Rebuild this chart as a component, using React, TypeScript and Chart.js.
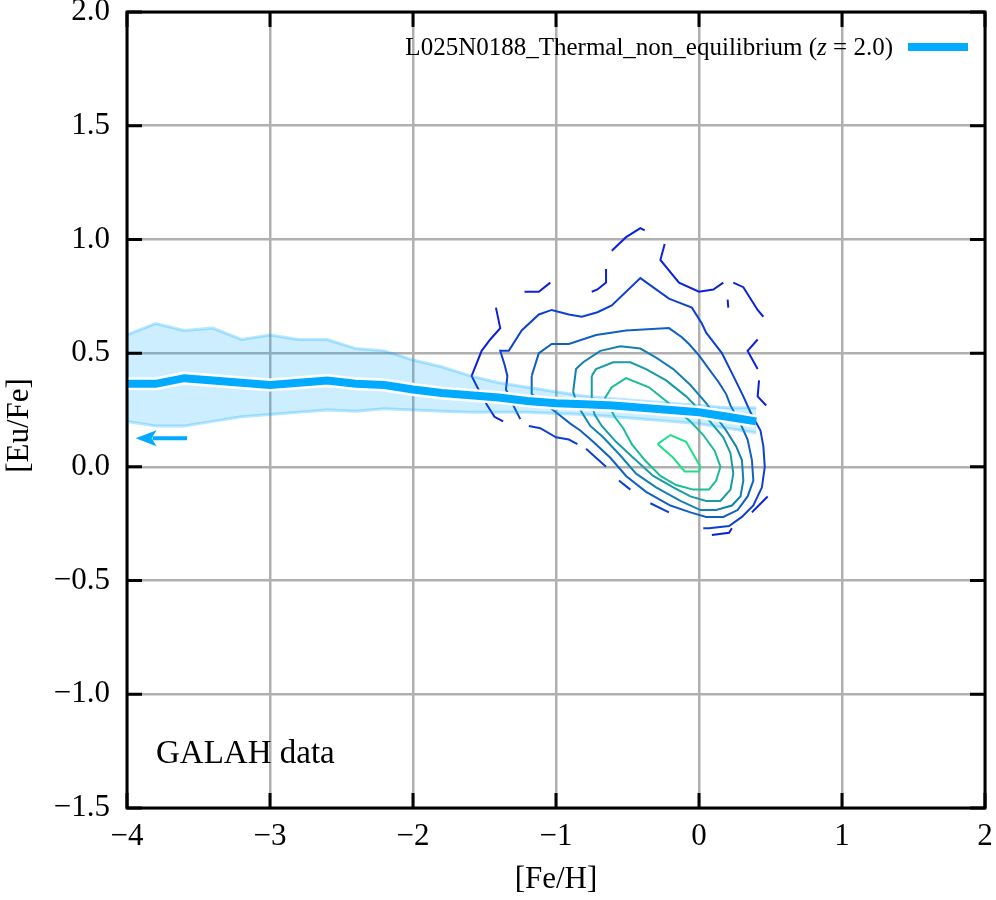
import React, { useEffect, useRef } from "react";
import { Chart, registerables } from "chart.js";

Chart.register(...registerables);

type Pt = [number, number] | null;

const FONT = "'Liberation Serif', 'Times New Roman', Times, serif";

// median [Eu/Fe] track of the simulation, binned in [Fe/H]
const feBins = [
  -4.0, -3.8, -3.6, -3.4, -3.2, -3.0, -2.8, -2.6, -2.4, -2.2, -2.0, -1.8,
  -1.6, -1.4, -1.2, -1.0, -0.8, -0.6, -0.4, -0.2, 0.0, 0.2, 0.4,
];
const euMedian = [
  0.365, 0.365, 0.39, 0.38, 0.37, 0.36, 0.37, 0.38, 0.365, 0.36, 0.34, 0.325,
  0.315, 0.305, 0.29, 0.28, 0.275, 0.27, 0.26, 0.25, 0.24, 0.22, 0.2,
];
const euUpper = [
  0.58, 0.63, 0.6, 0.61, 0.56, 0.58, 0.56, 0.56, 0.52, 0.51, 0.47, 0.44, 0.4,
  0.37, 0.35, 0.33, 0.31, 0.3, 0.29, 0.28, 0.27, 0.26, 0.26,
];
const euLower = [
  0.2, 0.18, 0.18, 0.2, 0.22, 0.23, 0.24, 0.25, 0.245, 0.255, 0.25, 0.245,
  0.24, 0.24, 0.24, 0.235, 0.23, 0.22, 0.21, 0.2, 0.19, 0.17, 0.15,
];

const xTickValues = [-4, -3, -2, -1, 0, 1, 2];
const xTickLabels = ["−4", "−3", "−2", "−1", "0", "1", "2"];
const yTickValues = [-1.5, -1.0, -0.5, 0.0, 0.5, 1.0, 1.5, 2.0];
const yTickLabels = ["−1.5", "−1.0", "−0.5", "0.0", "0.5", "1.0", "1.5", "2.0"];

// GALAH density contours, outermost (level 1) to innermost (level 7); null = break
const contourLevel1: Pt[] = [
  [-0.61, 0.95], [-0.51, 1.01], [-0.41, 1.05], [-0.38, 1.04], null,
  [-1.22, 0.77], [-1.12, 0.77], [-1.04, 0.81], null,
  [-0.75, 0.77], [-0.71, 0.78], [-0.65, 0.81], [-0.65, 0.87], null,
  [-0.24, 0.98], [-0.27, 0.91], [-0.14, 0.81], [0.0, 0.77], [0.1, 0.78], [0.17, 0.81], null,
  [0.2, 0.735], [0.205, 0.7], null,
  [0.24, 0.81], [0.31, 0.79], [0.41, 0.69], [0.45, 0.66], null,
  [0.41, 0.56], [0.34, 0.51], [0.41, 0.43], null,
  [0.42, 0.38], [0.41, 0.31], [0.47, 0.27], null,
  [-1.42, 0.7], [-1.39, 0.61], [-1.46, 0.56], [-1.52, 0.51], [-1.59, 0.4], [-1.55, 0.35],
  [-1.48, 0.27], [-1.43, 0.22], [-1.37, 0.2], null,
  [0.48, -0.13], [0.37, -0.2], null,
  [0.23, -0.27], [0.21, -0.29], [0.09, -0.3],
];
const contourLevel2: Pt[] = [
  [-1.25, 0.21], [-1.29, 0.26], [-1.35, 0.34], [-1.34, 0.4], [-1.36, 0.45], [-1.39, 0.51],
  [-1.33, 0.51], [-1.24, 0.6], [-1.12, 0.67], [-1.03, 0.69], [-0.91, 0.67], [-0.82, 0.66],
  [-0.71, 0.68], [-0.61, 0.71], [-0.41, 0.83], [-0.21, 0.74], [-0.13, 0.72], [-0.05, 0.7],
  [0.02, 0.63], [0.05, 0.59], [0.16, 0.5], [0.24, 0.4], [0.31, 0.31], [0.36, 0.24],
  [0.43, 0.16], [0.45, 0.09], [0.46, 0.0], [0.44, -0.09], [0.38, -0.17], [0.3, -0.22],
  [0.21, -0.26], [0.07, -0.27], [0.03, -0.27], null,
  [-0.21, -0.2], [-0.34, -0.16], null,
  [-0.48, -0.1], [-0.56, -0.06], null,
  [-0.65, 0.0], [-0.79, 0.08], null,
  [-0.85, 0.1], [-0.91, 0.12], [-1.0, 0.13], [-1.11, 0.17], [-1.19, 0.18],
];
const contourLevel3: Pt[] = [
  [-1.17, 0.4], [-1.12, 0.5], [-1.03, 0.54], [-0.91, 0.54], [-0.72, 0.58], [-0.51, 0.6],
  [-0.21, 0.61], [-0.12, 0.57], [-0.07, 0.54], [0.0, 0.49], [0.07, 0.43], [0.14, 0.37],
  [0.19, 0.32], [0.22, 0.27], [0.29, 0.19], [0.34, 0.12], [0.37, 0.03], [0.38, -0.06],
  [0.34, -0.13], [0.27, -0.19], [0.17, -0.22], [0.05, -0.22], [-0.06, -0.2], [-0.2, -0.17],
  [-0.37, -0.11], [-0.51, -0.04], [-0.62, 0.04], [-0.74, 0.11], [-0.83, 0.16], [-0.9, 0.19],
  [-1.0, 0.24], [-1.17, 0.32], [-1.17, 0.4],
];
const contourLevel4: Pt[] = [
  [-0.88, 0.33], [-0.86, 0.43], [-0.81, 0.46], [-0.69, 0.51], [-0.55, 0.53], [-0.41, 0.52],
  [-0.3, 0.48], [-0.18, 0.43], [-0.06, 0.36], [0.05, 0.28], [0.19, 0.16], [0.26, 0.09],
  [0.3, 0.03], [0.31, -0.06], [0.29, -0.13], [0.23, -0.17], [0.12, -0.19], [0.01, -0.19],
  [-0.13, -0.15], [-0.3, -0.09], [-0.44, -0.03], [-0.55, 0.05], [-0.67, 0.13], [-0.76, 0.18],
  [-0.81, 0.23], [-0.85, 0.27], [-0.88, 0.33],
];
const contourLevel5: Pt[] = [
  [-0.75, 0.4], [-0.72, 0.43], [-0.6, 0.46], [-0.48, 0.46], [-0.37, 0.43], [-0.23, 0.38],
  [-0.09, 0.31], [0.05, 0.22], [0.17, 0.13], [0.22, 0.06], [0.24, -0.03], [0.22, -0.1],
  [0.15, -0.15], [0.05, -0.15], [-0.06, -0.13], [-0.18, -0.09], [-0.32, -0.04], [-0.46, 0.04],
  [-0.58, 0.11], [-0.68, 0.18], [-0.73, 0.23], [-0.75, 0.28], [-0.75, 0.4],
];
const contourLevel6: Pt[] = [
  [-0.66, 0.3], [-0.61, 0.35], [-0.51, 0.39], [-0.35, 0.35], [-0.23, 0.29], [-0.06, 0.2],
  [0.03, 0.14], [0.11, 0.07], [0.15, 0.0], [0.12, -0.06], [0.07, -0.1], [-0.04, -0.1],
  [-0.16, -0.08], [-0.27, -0.04], [-0.38, 0.03], [-0.47, 0.1], [-0.53, 0.17], [-0.59, 0.22],
  [-0.63, 0.27], [-0.66, 0.3],
];
const contourLevel7: Pt[] = [
  [-0.29, 0.1], [-0.2, 0.14], [-0.09, 0.11], [0.01, 0.0], [0.0, -0.02], [-0.1, -0.02],
  [-0.18, 0.04], [-0.29, 0.1],
];
const contourLevels = [
  contourLevel1, contourLevel2, contourLevel3, contourLevel4,
  contourLevel5, contourLevel6, contourLevel7,
];
const contourColors = [
  "#0b22d8", "#0d40cf", "#0f60c2", "#1380b4", "#179ca6", "#1bbb98", "#20dd8a",
];

// "upper limit" arrow: tail -> tip in data coordinates
const arrowTail = [-3.58, 0.126];
const arrowTip = [-3.94, 0.126];

const legendLabel = "L025N0188_Thermal_non_equilibrium";
const legendRedshift = "2.0";
const sampleLabel = "GALAH data";

const MEDIAN_BLUE = "#00aaff";

const toPoints = (pts: Pt[]) => {
  let lastX = 0;
  return pts.map((p) => {
    if (p === null) return { x: lastX, y: null };
    lastX = p[0];
    return { x: p[0], y: p[1] };
  });
};

const track = (values: number[]) =>
  feBins.map((x, i) => ({ x, y: values[i] }));

// frame, inward ticks, legend, arrow and the GALAH label
const decorPlugin = {
  id: "decorPlugin",
  afterDatasetsDraw(chart: Chart) {
    const { ctx } = chart;
    const xs = chart.scales.x;
    const ys = chart.scales.y;
    const x0 = xs.getPixelForValue(arrowTail[0]);
    const x1 = xs.getPixelForValue(arrowTip[0]);
    const y1 = ys.getPixelForValue(arrowTip[1]);
    const dir = Math.sign(x1 - x0) || -1;
    const headLen = 21;
    const headHalf = 8;
    ctx.save();
    ctx.strokeStyle = MEDIAN_BLUE;
    ctx.fillStyle = MEDIAN_BLUE;
    ctx.lineWidth = 4;
    ctx.beginPath();
    ctx.moveTo(x0, y1);
    ctx.lineTo(x1 - dir * (headLen - 4), y1);
    ctx.stroke();
    ctx.beginPath();
    ctx.moveTo(x1, y1);
    ctx.lineTo(x1 - dir * headLen, y1 - headHalf);
    ctx.lineTo(x1 - dir * (headLen - 5), y1);
    ctx.lineTo(x1 - dir * headLen, y1 + headHalf);
    ctx.closePath();
    ctx.fill();
    ctx.restore();
  },
  afterDraw(chart: Chart) {
    const { ctx, chartArea } = chart;
    const { left, right, top, bottom } = chartArea;
    const xs = chart.scales.x;
    const ys = chart.scales.y;
    const tick = 15;
    ctx.save();
    ctx.strokeStyle = "#000";
    ctx.lineWidth = 3;
    ctx.beginPath();
    xTickValues.forEach((v) => {
      const px = xs.getPixelForValue(v);
      ctx.moveTo(px, bottom);
      ctx.lineTo(px, bottom - tick);
      ctx.moveTo(px, top);
      ctx.lineTo(px, top + tick);
    });
    yTickValues.forEach((v) => {
      const py = ys.getPixelForValue(v);
      ctx.moveTo(left, py);
      ctx.lineTo(left + tick, py);
      ctx.moveTo(right, py);
      ctx.lineTo(right - tick, py);
    });
    ctx.stroke();
    ctx.strokeRect(left, top, right - left, bottom - top);

    // legend (text to the left of the line sample)
    const lineX0 = right - 77;
    const lineX1 = right - 17;
    const lineY = top + 35;
    ctx.strokeStyle = MEDIAN_BLUE;
    ctx.lineWidth = 8;
    ctx.beginPath();
    ctx.moveTo(lineX0, lineY);
    ctx.lineTo(lineX1, lineY);
    ctx.stroke();

    const plain = `25px ${FONT}`;
    const ital = `italic 25px ${FONT}`;
    const parts: [string, string][] = [
      [legendLabel + " (", plain],
      ["z", ital],
      [" = " + legendRedshift + ")", plain],
    ];
    let total = 0;
    parts.forEach(([t, f]) => {
      ctx.font = f;
      total += ctx.measureText(t).width;
    });
    let tx = lineX0 - 15 - total;
    const baseY = top + 43;
    ctx.fillStyle = "#000";
    ctx.textBaseline = "alphabetic";
    ctx.textAlign = "left";
    parts.forEach(([t, f]) => {
      ctx.font = f;
      ctx.fillText(t, tx, baseY);
      tx += ctx.measureText(t).width;
    });

    ctx.font = `33px ${FONT}`;
    ctx.fillText(sampleLabel, left + 29, bottom - 45);
    ctx.restore();
  },
};

export default function App() {
  const canvasRef = useRef<HTMLCanvasElement>(null);
  const chartRef = useRef<Chart | null>(null);

  useEffect(() => {
    if (!canvasRef.current) return;
    const ctx = canvasRef.current.getContext("2d");
    if (!ctx) return;

    if (chartRef.current) {
      chartRef.current.destroy();
      chartRef.current = null;
    }

    const contourSets = contourLevels.map((lvl, i) => ({
      label: `contour ${i + 1}`,
      data: toPoints(lvl),
      borderColor: contourColors[i],
      backgroundColor: contourColors[i],
      borderWidth: 2,
      pointRadius: 0,
      tension: 0,
      fill: false,
      spanGaps: false,
      clip: 0,
    }));

    chartRef.current = new Chart(ctx, {
      type: "line",
      data: {
        datasets: [
          {
            label: "median",
            data: track(euMedian),
            borderColor: MEDIAN_BLUE,
            borderWidth: 8,
            pointRadius: 0,
            tension: 0,
            fill: false,
            clip: 0,
          },
          {
            label: "median outline",
            data: track(euMedian),
            borderColor: "#ffffff",
            borderWidth: 13,
            pointRadius: 0,
            tension: 0,
            fill: false,
            clip: 0,
          },
          {
            label: "upper",
            data: track(euUpper),
            borderColor: "rgba(0,170,255,0.28)",
            backgroundColor: "rgba(0,170,255,0.2)",
            borderWidth: 3,
            pointRadius: 0,
            tension: 0,
            fill: "+1",
            clip: 0,
          },
          {
            label: "lower",
            data: track(euLower),
            borderColor: "rgba(0,170,255,0.28)",
            borderWidth: 3,
            pointRadius: 0,
            tension: 0,
            fill: false,
            clip: 0,
          },
          ...contourSets,
        ],
      },
      options: {
        responsive: false,
        animation: false,
        layout: { padding: { top: 12, right: 11, left: 0, bottom: 0 } },
        plugins: {
          legend: { display: false },
          tooltip: { enabled: false },
        },
        scales: {
          x: {
            type: "linear",
            min: -4,
            max: 2,
            afterBuildTicks: (scale: any) => {
              scale.ticks = xTickValues.map((value) => ({ value }));
            },
            afterFit: (scale: any) => {
              scale.height = 92;
              scale.paddingLeft = 0;
              scale.paddingRight = 0;
            },
            ticks: {
              color: "#000",
              padding: 10,
              font: { family: FONT, size: 31 },
              callback: (v: any) => xTickLabels[xTickValues.indexOf(Number(v))],
            },
            grid: { color: "#b0b0b0", lineWidth: 2.5, drawTicks: false },
            border: { display: false },
            title: {
              display: true,
              text: "[Fe/H]",
              color: "#000",
              font: { family: FONT, size: 31 },
              padding: { top: 0, bottom: 2 },
            },
          },
          y: {
            type: "linear",
            min: -1.5,
            max: 2.0,
            afterBuildTicks: (scale: any) => {
              scale.ticks = yTickValues.map((value) => ({ value }));
            },
            afterFit: (scale: any) => {
              scale.width = 127;
              scale.paddingTop = 0;
              scale.paddingBottom = 0;
            },
            ticks: {
              color: "#000",
              padding: 17,
              font: { family: FONT, size: 31 },
              callback: (v: any) => yTickLabels[yTickValues.indexOf(Number(v))],
            },
            grid: { color: "#b0b0b0", lineWidth: 2.5, drawTicks: false },
            border: { display: false },
            title: {
              display: true,
              text: "[Eu/Fe]\u2002\u2002",
              color: "#000",
              font: { family: FONT, size: 31 },
              padding: { top: 1, bottom: 0 },
            },
          },
        },
      },
      plugins: [decorPlugin],
    });

    return () => {
      if (chartRef.current) {
        chartRef.current.destroy();
        chartRef.current = null;
      }
    };
  }, []);

  return (
    <div
      style={{
        position: "absolute",
        left: 0,
        top: 0,
        width: 996,
        height: 900,
        background: "#fff",
      }}
    >
      <canvas ref={canvasRef} width={996} height={900} aria-label="[Eu/Fe] vs [Fe/H]" />
    </div>
  );
}
